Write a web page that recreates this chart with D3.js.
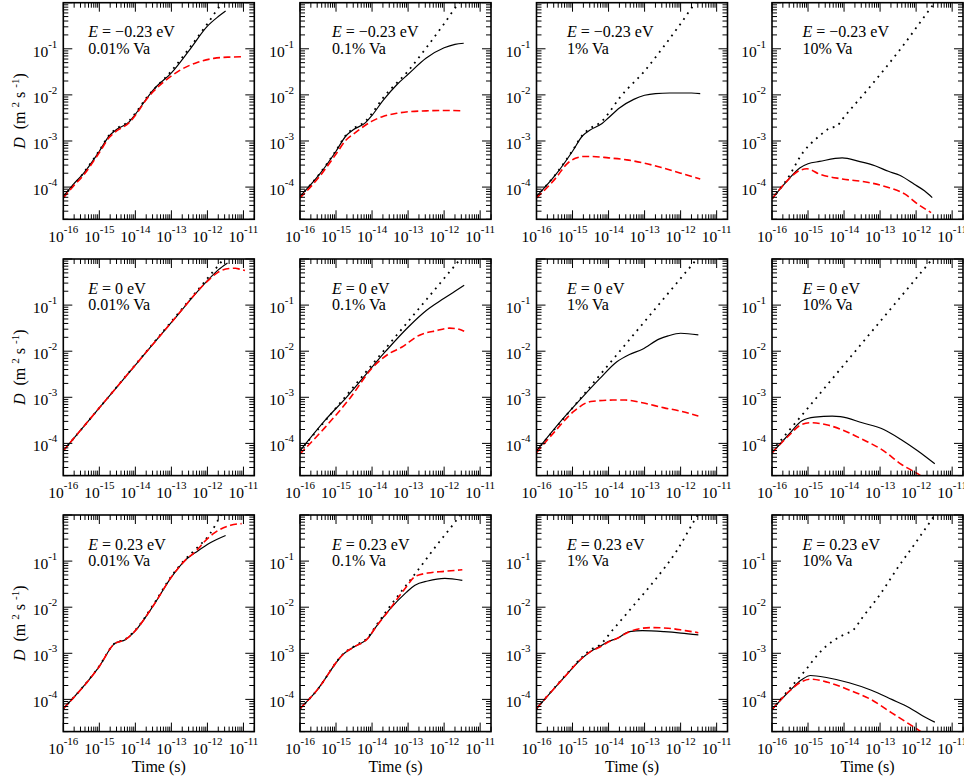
<!DOCTYPE html>
<html>
<head>
<meta charset="utf-8">
<script src="https://cdn.jsdelivr.net/npm/d3@7"></script>
<style>
  html, body { margin: 0; padding: 0; background: #fff; }
  svg { display: block; font-family: "Liberation Serif", "Times New Roman", serif; }
</style>
</head>
<body>
<svg id="chart" width="964" height="779"></svg>
<script>
// Axis decades that carry labels
const xTickExponents = [-16, -15, -14, -13, -12, -11];
const yTickExponents = [-4, -3, -2, -1];
const timeDomain = [1e-16, 2e-11];
const diffDomain = [2e-5, 1];

// Row and column annotations
const energyLabels = ["\u22120.23", "0", "0.23"];
const vacancyLabels = ["0.01%", "0.1%", "1%", "10%"];

// Each series: [time (s), D (m^2 s^-1)]
// ---- E = -0.23 eV ----
const dotted_m023_001 = [[1e-16,6.3e-5],[3.5e-16,1.95e-4],[1e-15,6.2e-4],[1.9e-15,1.35e-3],[3e-15,1.85e-3],[6.6e-15,2.7e-3],[1e-14,4.0e-3],[2e-14,8.5e-3],[1e-13,3.3e-2],[3.2e-13,0.105],[1e-12,0.35],[2.5e-12,0.95],[2.8e-12,1.05]];
const solid_m023_001 = [[1e-16,6.3e-5],[1.9e-16,1.15e-4],[3.5e-16,1.9e-4],[1e-15,6.0e-4],[1.9e-15,1.3e-3],[3e-15,1.78e-3],[6.6e-15,2.57e-3],[1e-14,3.8e-3],[2e-14,8.1e-3],[3.2e-14,1.3e-2],[1e-13,3.0e-2],[3.2e-13,9.5e-2],[1e-12,0.31],[2e-12,0.5],[3.2e-12,0.66]];
const dashed_m023_001 = [[1e-16,5.8e-5],[1.9e-16,1.05e-4],[3.5e-16,1.75e-4],[1e-15,5.6e-4],[1.9e-15,1.2e-3],[3e-15,1.65e-3],[6.6e-15,2.45e-3],[1e-14,3.6e-3],[2e-14,7.8e-3],[3.2e-14,1.2e-2],[6.6e-14,2.0e-2],[1.7e-13,3.4e-2],[5.4e-13,5.1e-2],[1.5e-12,6.2e-2],[4e-12,6.6e-2],[9e-12,6.7e-2]];

const dotted_m023_01 = [[1e-16,6.3e-5],[3.5e-16,1.95e-4],[1e-15,6.2e-4],[1.9e-15,1.35e-3],[3e-15,1.85e-3],[6.6e-15,2.7e-3],[1e-14,4.0e-3],[2e-14,8.5e-3],[1e-13,3.3e-2],[3.2e-13,0.105],[1e-12,0.35],[2.5e-12,0.95],[2.8e-12,1.05]];
const solid_m023_01 = [[1e-16,6.3e-5],[3.5e-16,1.9e-4],[1e-15,6.0e-4],[1.9e-15,1.3e-3],[3e-15,1.75e-3],[6.6e-15,2.5e-3],[1e-14,3.6e-3],[2e-14,7.5e-3],[5e-14,1.7e-2],[1e-13,2.8e-2],[3.2e-13,6.3e-2],[1e-12,0.105],[2e-12,0.125],[3.5e-12,0.132]];
const dashed_m023_01 = [[1e-16,5.8e-5],[3.5e-16,1.7e-4],[1e-15,5.2e-4],[1.9e-15,1.05e-3],[3e-15,1.4e-3],[5e-15,1.9e-3],[1e-14,2.7e-3],[2e-14,3.4e-3],[5e-14,4.0e-3],[1e-13,4.3e-3],[3.2e-13,4.5e-3],[1e-12,4.6e-3],[3.5e-12,4.5e-3]];

const dotted_m023_1 = [[1e-16,6.3e-5],[3.5e-16,1.95e-4],[1e-15,6.2e-4],[1.9e-15,1.35e-3],[3e-15,1.85e-3],[6.6e-15,2.7e-3],[1e-14,4.0e-3],[2e-14,8.5e-3],[1e-13,3.3e-2],[3.2e-13,0.105],[1e-12,0.35],[2.5e-12,0.95],[2.8e-12,1.05]];
const solid_m023_1 = [[1e-16,6.3e-5],[3.5e-16,1.9e-4],[1e-15,6.0e-4],[1.9e-15,1.3e-3],[3e-15,1.7e-3],[6.6e-15,2.4e-3],[1e-14,3.2e-3],[2e-14,5.2e-3],[5e-14,8.0e-3],[1e-13,9.8e-3],[2e-13,1.07e-2],[5e-13,1.1e-2],[1e-12,1.1e-2],[2e-12,1.1e-2],[3.5e-12,1.07e-2]];
const dashed_m023_1 = [[1e-16,5.8e-5],[3.5e-16,1.6e-4],[7e-16,3.2e-4],[1.2e-15,4.2e-4],[2e-15,4.6e-4],[3.5e-15,4.6e-4],[1e-14,4.3e-4],[3.2e-14,3.9e-4],[1e-13,3.3e-4],[3.2e-13,2.6e-4],[1e-12,2.0e-4],[3.5e-12,1.5e-4]];

const dotted_m023_10 = [[1e-16,5.6e-5],[2.6e-16,1.46e-4],[7.2e-16,5.6e-4],[2.1e-15,1.3e-3],[4e-15,1.9e-3],[6.3e-15,2.1e-3],[8.9e-15,2.95e-3],[4.8e-14,1.38e-2],[3.9e-13,0.105],[2.8e-12,0.85],[3.5e-12,1.07]];
const solid_m023_10 = [[1e-16,5.6e-5],[2.6e-16,1.35e-4],[5.9e-16,2.6e-4],[1e-15,3.2e-4],[2.1e-15,3.6e-4],[8.9e-15,4.3e-4],[2.6e-14,3.6e-4],[7.2e-14,2.9e-4],[1.7e-13,2.2e-4],[3.5e-13,1.8e-4],[8.9e-13,1.15e-4],[1.7e-12,8.3e-5],[2.8e-12,5.9e-5]];
const dashed_m023_10 = [[1e-16,5.6e-5],[2.6e-16,1.35e-4],[4.8e-16,2.1e-4],[9.3e-16,2.5e-4],[2.1e-15,1.9e-4],[8.9e-15,1.5e-4],[4.8e-14,1.26e-4],[1.7e-13,9.8e-5],[4.8e-13,7.1e-5],[1.1e-12,4.3e-5],[2.6e-12,2.8e-5]];

// ---- E = 0 eV ----
const dotted_0 = [[1e-16,6.9e-5],[1e-15,5.9e-4],[1e-14,5.1e-3],[1e-13,4.4e-2],[1e-12,0.38],[2.8e-12,1.0],[3.5e-12,1.25]];
const solid_0_001 = [[1e-16,6.9e-5],[1e-15,5.9e-4],[1e-14,5.0e-3],[1e-13,4.2e-2],[1e-12,0.34],[2e-12,0.58],[3.6e-12,0.82]];
const dashed_0_001 = [[1e-16,6.9e-5],[1e-15,5.9e-4],[1e-14,5.0e-3],[1e-13,4.2e-2],[1e-12,0.33],[2e-12,0.52],[4e-12,0.62],[6e-12,0.63],[8e-12,0.6],[1.1e-11,0.56]];

const solid_0_01 = [[1e-16,6.9e-5],[5e-16,3.2e-4],[1.95e-15,1.0e-3],[2.4e-14,1.0e-2],[1e-13,3.3e-2],[3.2e-13,7.6e-2],[1e-12,0.14],[2e-12,0.2],[3.6e-12,0.27]];
const dashed_0_01 = [[1e-16,5.9e-5],[4.9e-16,2.2e-4],[2.5e-15,9.8e-4],[1e-14,4.3e-3],[3e-14,8.9e-3],[6.8e-14,1.23e-2],[2e-13,2.2e-2],[6.2e-13,2.8e-2],[1.4e-12,3.16e-2],[2.1e-12,3.1e-2],[3.6e-12,2.7e-2]];

const solid_0_1 = [[1e-16,6.9e-5],[5e-16,3.2e-4],[2.45e-15,1.26e-3],[5.6e-15,2.5e-3],[1.7e-14,5.9e-3],[3.8e-14,8.5e-3],[8.7e-14,1.1e-2],[2.6e-13,1.85e-2],[4.5e-13,2.15e-2],[1e-12,2.45e-2],[3.1e-12,2.25e-2]];
const dashed_0_1 = [[1e-16,6.3e-5],[3.2e-16,1.8e-4],[1.1e-15,5e-4],[3.2e-15,8.1e-4],[1.3e-14,8.7e-4],[2.9e-14,8.7e-4],[8.7e-14,7.6e-4],[3.5e-13,5.9e-4],[1e-12,5e-4],[3.1e-12,3.9e-4]];

const solid_0_10 = [[1e-16,6.2e-5],[3e-16,1.6e-4],[6.8e-16,3.1e-4],[1.55e-15,3.7e-4],[4.7e-15,3.9e-4],[7.9e-15,3.8e-4],[3.2e-14,2.8e-4],[1.26e-13,2.0e-4],[3.7e-13,1.23e-4],[1.1e-12,6.9e-5],[3.3e-12,3.6e-5]];
const dashed_0_10 = [[1e-16,6.2e-5],[3e-16,1.5e-4],[6.8e-16,2.6e-4],[1.17e-15,2.8e-4],[3.5e-15,2.5e-4],[1.05e-14,1.86e-4],[3.2e-14,1.23e-4],[1.26e-13,6.9e-5],[3.7e-13,3.6e-5],[1.1e-12,2.2e-5],[2e-12,1.6e-5]];

// ---- E = 0.23 eV ----
const dotted_p023_001 = [[1e-16,6.3e-5],[1e-15,5.3e-4],[2.6e-15,1.62e-3],[5.4e-15,2.05e-3],[8.1e-15,2.7e-3],[1e-14,3.2e-3],[3.2e-14,1.15e-2],[1e-13,4.7e-2],[2.3e-13,0.105],[5.4e-13,0.2],[1.2e-12,0.4],[2.4e-12,1.0],[2.7e-12,1.15]];
const solid_p023_001 = [[1e-16,6.3e-5],[1e-15,5.2e-4],[2.6e-15,1.6e-3],[5.4e-15,2.0e-3],[8.1e-15,2.6e-3],[1e-14,3.1e-3],[3.2e-14,1.1e-2],[1e-13,4.5e-2],[2.3e-13,0.1],[5.4e-13,0.166],[1.2e-12,0.25],[3.2e-12,0.36]];
const dashed_p023_001 = [[1e-16,6.3e-5],[1e-15,5.2e-4],[2.6e-15,1.6e-3],[5.4e-15,2.0e-3],[8.1e-15,2.6e-3],[1e-14,3.1e-3],[3.2e-14,1.1e-2],[1e-13,4.5e-2],[2.3e-13,0.1],[5.4e-13,0.18],[8.1e-13,0.26],[1.5e-12,0.4],[4.4e-12,0.6],[8.9e-12,0.65]];

const dotted_p023_01 = [[1e-16,6.3e-5],[2.8e-16,1.5e-4],[1.7e-15,1.02e-3],[3.3e-15,1.45e-3],[7.6e-15,2.2e-3],[1.3e-14,4.0e-3],[3e-14,1.0e-2],[6.8e-14,2.3e-2],[2e-13,6.8e-2],[6.2e-13,0.22],[1.8e-12,0.63],[2.8e-12,1.0]];
const solid_p023_01 = [[1e-16,6.3e-5],[2.8e-16,1.5e-4],[1.7e-15,1.0e-3],[3.3e-15,1.4e-3],[7.6e-15,2.1e-3],[1.3e-14,3.8e-3],[3e-14,8.7e-3],[8.9e-14,2.1e-2],[1.55e-13,3.0e-2],[3.5e-13,3.7e-2],[1.05e-12,4.2e-2],[3.2e-12,3.8e-2]];
const dashed_p023_01 = [[1e-16,6.3e-5],[2.8e-16,1.5e-4],[1.7e-15,1.0e-3],[3.3e-15,1.4e-3],[7.6e-15,2.1e-3],[1.3e-14,3.8e-3],[3e-14,8.7e-3],[5.1e-14,1.55e-2],[8.9e-14,2.75e-2],[1.55e-13,4.6e-2],[3.5e-13,5.5e-2],[1.05e-12,6.0e-2],[3.2e-12,6.5e-2]];

const dotted_p023_1 = [[1e-16,6.3e-5],[6.3e-16,3.3e-4],[1.86e-15,8.3e-4],[3.2e-15,1.2e-3],[5.6e-15,1.5e-3],[1.3e-14,3.2e-3],[5e-14,1.1e-2],[2e-13,4.0e-2],[7.9e-13,0.17],[2.5e-12,0.8],[3.2e-12,1.1]];
const solid_p023_1 = [[1e-16,6.3e-5],[6.3e-16,3.2e-4],[1.86e-15,7.9e-4],[3.2e-15,1.1e-3],[5.6e-15,1.4e-3],[9.8e-15,1.8e-3],[1.7e-14,2.1e-3],[3.8e-14,2.95e-3],[8.7e-14,3.1e-3],[3.5e-13,2.95e-3],[1.02e-12,2.75e-3],[3.1e-12,2.5e-3]];
const dashed_p023_1 = [[1e-16,6.3e-5],[6.3e-16,3.2e-4],[1.86e-15,7.9e-4],[3.2e-15,1.1e-3],[5.6e-15,1.35e-3],[9.8e-15,1.75e-3],[1.7e-14,2.1e-3],[3.8e-14,2.95e-3],[8.7e-14,3.5e-3],[1.5e-13,3.6e-3],[4.5e-13,3.5e-3],[1.35e-12,3.1e-3],[3.1e-12,2.8e-3]];

const dotted_p023_10 = [[1e-16,6e-5],[3e-16,1.66e-4],[8.9e-16,4.5e-4],[2e-15,1.0e-3],[4.7e-15,1.8e-3],[1.05e-14,2.6e-3],[1.8e-14,3.2e-3],[3.2e-14,5.9e-3],[1e-13,1.9e-2],[3.2e-13,7.5e-2],[1e-12,0.26],[3.3e-12,1.0]];
const solid_p023_10 = [[1e-16,6e-5],[3e-16,1.5e-4],[6.8e-16,2.7e-4],[1.17e-15,3.3e-4],[3.5e-15,2.95e-4],[1.38e-14,2.3e-4],[5.5e-14,1.6e-4],[2.1e-13,1.0e-4],[6.5e-13,6.6e-5],[1.5e-12,4.4e-5],[3.3e-12,3.2e-5]];
const dashed_p023_10 = [[1e-16,6e-5],[3e-16,1.5e-4],[6.8e-16,2.45e-4],[1.17e-15,2.75e-4],[3.5e-15,2.35e-4],[1.38e-14,1.6e-4],[5.5e-14,1.0e-4],[2.1e-13,5.1e-5],[6.5e-13,2.9e-5],[1.5e-12,1.9e-5]];

// Grid of panels: rows = energy, columns = vacancy concentration
const dottedGrid = [
  [dotted_m023_001, dotted_m023_01, dotted_m023_1, dotted_m023_10],
  [dotted_0, dotted_0, dotted_0, dotted_0],
  [dotted_p023_001, dotted_p023_01, dotted_p023_1, dotted_p023_10]
];
const solidGrid = [
  [solid_m023_001, solid_m023_01, solid_m023_1, solid_m023_10],
  [solid_0_001, solid_0_01, solid_0_1, solid_0_10],
  [solid_p023_001, solid_p023_01, solid_p023_1, solid_p023_10]
];
const dashedGrid = [
  [dashed_m023_001, dashed_m023_01, dashed_m023_1, dashed_m023_10],
  [dashed_0_001, dashed_0_01, dashed_0_1, dashed_0_10],
  [dashed_p023_001, dashed_p023_01, dashed_p023_1, dashed_p023_10]
];

// Layout
const panelW = 191, panelH = 216.6;
const colLeft = [63.3, 300, 536.5, 772];
const rowTop = [2.7, 259, 515];
const noteLeft = [25, 32, 30.5, 30.5];
const majorLen = 9, minorLen = 5;

const svg = d3.select("#chart");
const x = d3.scaleLog().domain(timeDomain).range([0, panelW]);
const y = d3.scaleLog().domain(diffDomain).range([panelH, 0]);
const line = d3.line().x(d => x(d[0])).y(d => y(d[1])).curve(d3.curveMonotoneX);

const isDecade = v => Math.abs(Math.log10(v) - Math.round(Math.log10(v))) < 1e-6;
const xTicks = x.ticks();
const yTicks = y.ticks();

energyLabels.forEach((eLabel, r) => {
  vacancyLabels.forEach((vLabel, c) => {
    const g = svg.append("g").attr("transform", `translate(${colLeft[c]},${rowTop[r]})`);
    const clipId = `clip-${r}-${c}`;
    g.append("clipPath").attr("id", clipId)
      .append("rect").attr("width", panelW).attr("height", panelH);

    const plot = g.append("g").attr("clip-path", `url(#${clipId})`);
    plot.append("path").datum(dottedGrid[r][c])
      .attr("d", line).attr("fill", "none").attr("stroke", "#000")
      .attr("stroke-width", 1.8).attr("stroke-dasharray", "1.8 5");
    plot.append("path").datum(solidGrid[r][c])
      .attr("d", line).attr("fill", "none").attr("stroke", "#000")
      .attr("stroke-width", 1.2);
    plot.append("path").datum(dashedGrid[r][c])
      .attr("d", line).attr("fill", "none").attr("stroke", "#ff0000")
      .attr("stroke-width", 1.6).attr("stroke-dasharray", "7 3.5");

    // ticks on all four sides, pointing inward
    const ticks = g.append("g").attr("stroke", "#000").attr("stroke-width", 1);
    xTicks.forEach(v => {
      const len = isDecade(v) ? majorLen : minorLen;
      const px = x(v);
      ticks.append("line").attr("x1", px).attr("x2", px).attr("y1", panelH).attr("y2", panelH - len);
      ticks.append("line").attr("x1", px).attr("x2", px).attr("y1", 0).attr("y2", len);
    });
    yTicks.forEach(v => {
      const len = isDecade(v) ? majorLen : minorLen;
      const py = y(v);
      ticks.append("line").attr("x1", 0).attr("x2", len).attr("y1", py).attr("y2", py);
      ticks.append("line").attr("x1", panelW).attr("x2", panelW - len).attr("y1", py).attr("y2", py);
    });

    g.append("rect").attr("width", panelW).attr("height", panelH)
      .attr("fill", "none").attr("stroke", "#000").attr("stroke-width", 1.6);

    // tick labels
    xTickExponents.forEach(e => {
      const t = g.append("text").attr("x", x(Math.pow(10, e))).attr("y", panelH + 22.5)
        .attr("text-anchor", "middle").attr("font-size", 15.5);
      t.append("tspan").text("10");
      t.append("tspan").attr("dy", -9).attr("font-size", 11).text(String(e));
    });
    yTickExponents.forEach(e => {
      const t = g.append("text").attr("x", -6).attr("y", y(Math.pow(10, e)) + 8)
        .attr("text-anchor", "end").attr("font-size", 15.5);
      t.append("tspan").text("10");
      t.append("tspan").attr("dy", -9).attr("font-size", 11).text(String(e));
    });

    // annotation
    const ax = noteLeft[c];
    const a1 = g.append("text").attr("x", ax).attr("y", 34.5).attr("font-size", 16);
    a1.append("tspan").attr("font-style", "italic").text("E");
    a1.append("tspan").text(" = " + eLabel + " eV");
    g.append("text").attr("x", ax).attr("y", 51).attr("font-size", 16).text(vLabel + " Va");

    // axis titles
    if (c === 0) {
      const yt = g.append("text")
        .attr("transform", `translate(${25 - colLeft[0]},${panelH / 2}) rotate(-90)`)
        .attr("text-anchor", "middle").attr("font-size", 16);
      yt.append("tspan").attr("font-style", "italic").text("D");
      yt.append("tspan").text("\u00a0\u00a0(m\u00a0");
      yt.append("tspan").attr("dy", -6).attr("font-size", 11).text("2");
      yt.append("tspan").attr("dy", 6).text("\u00a0s\u00a0");
      yt.append("tspan").attr("dy", -6).attr("font-size", 11).text("-1");
      yt.append("tspan").attr("dy", 6).text(")");
    }
    if (r === 2) {
      g.append("text").attr("x", panelW / 2).attr("y", 772 - rowTop[2])
        .attr("text-anchor", "middle").attr("font-size", 16).text("Time (s)");
    }
  });
});
</script>
</body>
</html>
